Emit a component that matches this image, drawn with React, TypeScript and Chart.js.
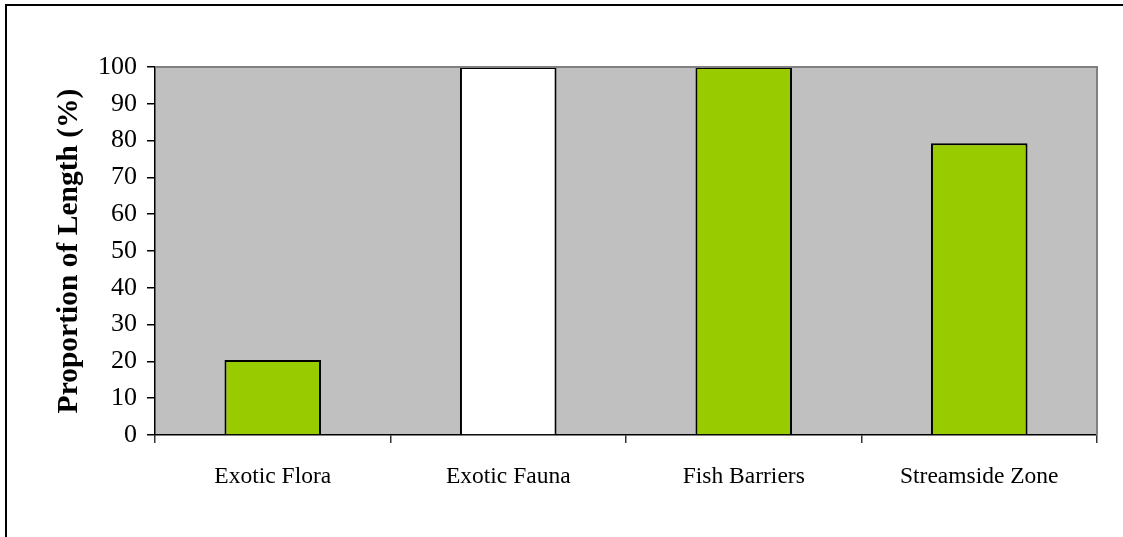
import React, { useEffect, useRef } from "react";
import { Chart, registerables } from "chart.js";

Chart.register(...registerables);

const categories = ["Exotic Flora", "Exotic Fauna", "Fish Barriers", "Streamside Zone"];
const values = [20.4, 100, 100, 79.3];
const barColors = ["#99CC00", "#FFFFFF", "#99CC00", "#99CC00"];
const yAxisTitle = "Proportion of Length (%)";
const yMin = 0;
const yMax = 100;
const yStep = 10;

const FONT = "'Liberation Serif', 'Times New Roman', serif";

const framePlugin = {
  id: "frame",
  beforeDraw(chart: any) {
    const { ctx, chartArea } = chart;
    ctx.save();
    ctx.fillStyle = "#C0C0C0";
    ctx.fillRect(chartArea.left, chartArea.top, chartArea.right - chartArea.left, chartArea.bottom - chartArea.top);
    // outer border (left & top)
    ctx.strokeStyle = "#000";
    ctx.lineWidth = 2;
    ctx.beginPath();
    ctx.moveTo(6, chart.height + 2);
    ctx.lineTo(6, 5);
    ctx.lineTo(chart.width + 2, 5);
    ctx.stroke();
    ctx.restore();
  },
  afterDraw(chart: any) {
    const { ctx, chartArea } = chart;
    ctx.save();
    ctx.strokeStyle = "#808080";
    ctx.lineWidth = 2;
    ctx.beginPath();
    ctx.moveTo(chartArea.left, chartArea.top);
    ctx.lineTo(chartArea.right, chartArea.top);
    ctx.lineTo(chartArea.right, chartArea.bottom);
    ctx.stroke();
    ctx.restore();
  },
};

export default function App() {
  const ref = useRef<HTMLCanvasElement>(null);
  useEffect(() => {
    if (!ref.current) return;
    const chart = new Chart(ref.current, {
      type: "bar",
      data: {
        labels: categories,
        datasets: [
          {
            data: values,
            backgroundColor: barColors,
            borderColor: "#000",
            borderWidth: 2,
            barPercentage: 0.41,
            categoryPercentage: 1,
          },
        ],
      },
      options: {
        responsive: false,
        animation: false,
        layout: { padding: { left: 0, top: 67, right: 26, bottom: 42 } },
        plugins: { legend: { display: false }, tooltip: { enabled: false } },
        scales: {
          x: {
            grid: { display: true, drawOnChartArea: false, drawTicks: true, tickLength: 8, color: "#333", lineWidth: 1.5 },
            border: { display: true, color: "#000", width: 1.5 },
            ticks: { color: "#000", padding: 20, font: { family: FONT, size: 23.5 }, maxRotation: 0 },
            afterFit: (s: any) => { s.height = 60; },
          },
          y: {
            min: yMin,
            max: yMax,
            ticks: { stepSize: yStep, color: "#000", padding: 10, font: { family: FONT, size: 26 } },
            grid: { display: true, drawOnChartArea: false, drawTicks: true, tickLength: 8, color: "#000", lineWidth: 1.5 },
            border: { display: true, color: "#000", width: 1.5 },
            title: {
              display: true,
              text: yAxisTitle,
              color: "#000",
              font: { family: FONT, size: 29.5, weight: "bold" },
              padding: { top: 52, bottom: 0 },
            },
            afterFit: (s: any) => { s.width = 155; },
          },
        },
      },
      plugins: [framePlugin],
    });
    return () => chart.destroy();
  }, []);
  return (
    <div style={{ position: "fixed", left: 0, top: 0, width: 1123, height: 537, background: "#fff" }}>
      <canvas ref={ref} width={1123} height={537} style={{ display: "block" }} />
    </div>
  );
}
